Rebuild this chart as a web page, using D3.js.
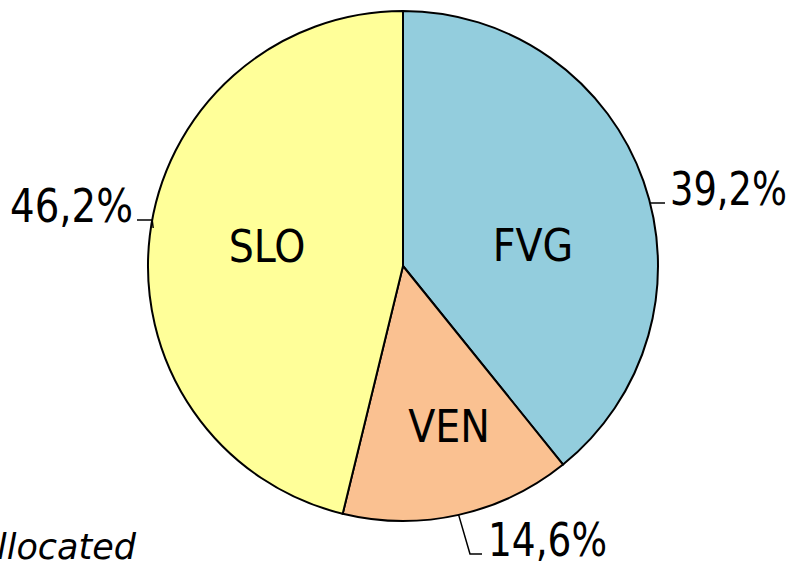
<!DOCTYPE html>
<html>
<head>
<meta charset="utf-8">
<script src="https://cdn.jsdelivr.net/npm/d3@7"></script>
<style>
  body { margin: 0; background: #fff; }
  svg { display: block; }
</style>
</head>
<body>
<div id="chart"></div>
<script>
const WIDTH = 794
const HEIGHT = 564
const CX = 403, CY = 266, R = 255

const regions = ['FVG', 'VEN', 'SLO']
const shares = [39.2, 14.6, 46.2]
const colors = ['#93CDDD', '#FAC191', '#FFFF99']
const pctLabels = ['39,2%', '14,6%', '46,2%']

const FONT = '"DejaVu Sans Condensed", sans-serif'

const svg = d3.select('#chart')
    .append('svg')
    .attr('width', WIDTH)
    .attr('height', HEIGHT)

const g = svg.append('g')
    .attr('transform', `translate(${CX}, ${CY})`)

const data = regions.map((r, i) => ({name: r, value: shares[i], color: colors[i], label: pctLabels[i]}))

const pie = d3.pie()
    .value(d => d.value)
    .sort(null)

const arc = d3.arc()
    .innerRadius(0)
    .outerRadius(R)

const arcs = pie(data)

g.selectAll('path.slice')
    .data(arcs)
    .enter().append('path')
    .attr('class', 'slice')
    .attr('d', arc)
    .attr('fill', d => d.data.color)
    .attr('stroke', '#000')
    .attr('stroke-width', 2)

// name labels inside slices
const inner = {FVG: [130, -20], VEN: [46, 161], SLO: [-136, -19]}
g.selectAll('text.name')
    .data(arcs)
    .enter().append('text')
    .attr('class', 'name')
    .attr('x', d => inner[d.data.name][0])
    .attr('y', d => inner[d.data.name][1])
    .attr('dy', '0.35em')
    .attr('text-anchor', 'middle')
    .attr('font-family', FONT)
    .attr('font-size', 44)
    .text(d => d.data.name)

// percentage labels with short leader lines
const pt = (a, r) => [r * Math.sin(a), -r * Math.cos(a)]

arcs.forEach(d => {
    const name = d.data.name
    let line, tx, ty, len
    if (name === 'FVG') {
        const p0 = [Math.sqrt(R * R - 63 * 63), -63]
        line = [p0, [262, -63]]
        tx = 267; ty = -63; len = 117
    } else if (name === 'VEN') {
        const mid = (d.startAngle + d.endAngle) / 2
        line = [pt(mid, R), [67, 288], [79, 288]]
        tx = 85; ty = 288; len = 119
    } else {
        const p0 = [-Math.sqrt(R * R - 46 * 46), -46]
        line = [[p0[0] + 1, -38], [p0[0], -46], [-266, -46]]
        tx = -393; ty = -46; len = 123
    }
    g.append('path')
        .attr('d', d3.line()(line))
        .attr('fill', 'none')
        .attr('stroke', '#000')
        .attr('stroke-width', 1.5)
    g.append('text')
        .attr('x', tx)
        .attr('y', ty + 2)
        .attr('font-family', FONT)
        .attr('font-size', 46)
        .attr('textLength', len)
        .attr('lengthAdjust', 'spacingAndGlyphs')
        .text(d.data.label)
})

svg.append('text')
    .attr('x', 136)
    .attr('y', 559)
    .attr('text-anchor', 'end')
    .attr('font-family', '"DejaVu Sans", sans-serif')
    .attr('font-style', 'italic')
    .attr('font-size', 35)
    .text('Allocated')
</script>
</body>
</html>
